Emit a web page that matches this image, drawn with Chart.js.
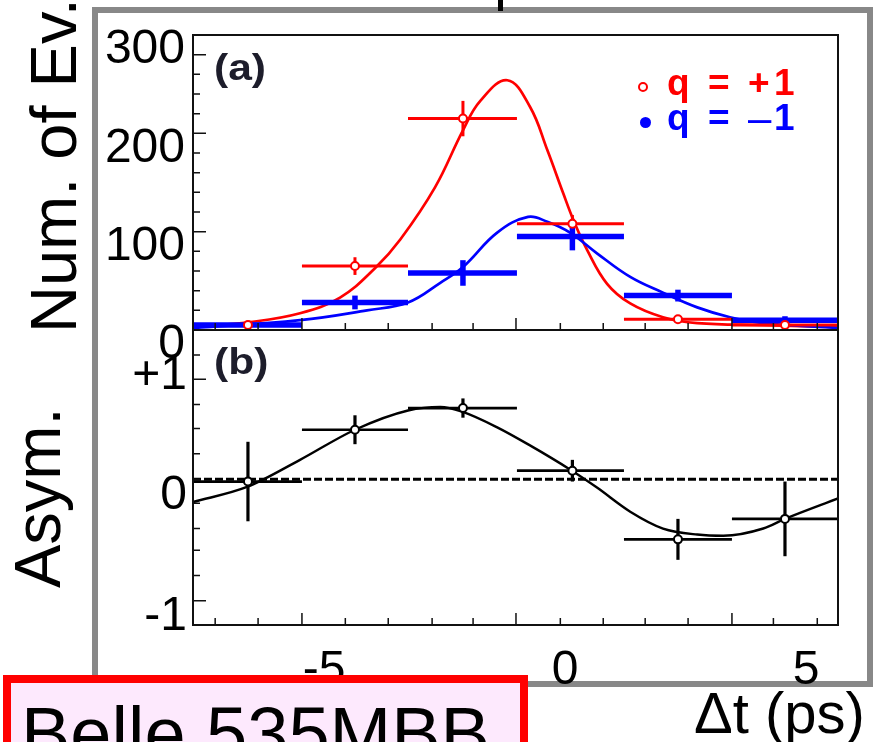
<!DOCTYPE html>
<html>
<head>
<meta charset="utf-8">
<script src="https://cdn.jsdelivr.net/npm/chart.js@4.4.0/dist/chart.umd.min.js"></script>
<style>
    body { margin: 0; width: 876px; height: 742px; overflow: hidden; background: #fff; position: relative;
           font-family: 'Liberation Sans', Arial, sans-serif; }
    canvas { position: absolute; left: 0; top: 0; }
    .abs { position: absolute; white-space: nowrap; line-height: 1; }
    #frame { position: absolute; left: 92px; top: 7px; width: 781px; height: 680px; border: 6px solid #888; box-sizing: border-box; }
    #stub { position: absolute; left: 498px; top: 0; width: 5px; height: 11px; background: #000; }
    .rot { position: absolute; white-space: nowrap; line-height: 1; font-size: 65px; color: #000;
           transform-origin: 0 0; transform: rotate(-90deg); }
    .tag { position: absolute; white-space: nowrap; line-height: 1; font-size: 37px; font-weight: bold; color: #1d1d2b;
           transform-origin: 0 0; transform: scaleX(1.15); }
    .leg { position: absolute; white-space: nowrap; line-height: 1; font-size: 37px; font-weight: bold; }
    #belle { position: absolute; left: 3px; top: 675px; width: 525px; height: 110px; border: 8px solid #ff0000;
             background: #fde9fd; box-sizing: border-box; padding: 14px 0 0 10px; font-size: 74px; line-height: 1; white-space: nowrap; }
</style>
</head>
<body>
<div id="frame"></div>
<div id="stub"></div>
<canvas id="countChart" width="876" height="742"></canvas>
<canvas id="asymChart" width="876" height="742"></canvas>

<div class="rot" style="left:21px; top:333px;">Num. of Ev.</div>
<div class="rot" style="left:5px; top:588px;">Asym.</div>

<div class="tag" style="left:214px; top:49px;">(a)</div>
<div class="tag" style="left:214px; top:343px;">(b)</div>

<div style="position:absolute; left:638px; top:82px; width:10px; height:10px; border:2.5px solid #ff0000; border-radius:50%; box-sizing:border-box;"></div>
<div class="leg" style="left:667px; top:64px; color:#ff0000;">q</div>
<div class="leg" style="left:708px; top:64px; color:#ff0000;">=</div>
<div class="leg" style="left:748px; top:64px; color:#ff0000;">+</div>
<div class="leg" style="left:774px; top:64px; color:#ff0000;">1</div>

<div style="position:absolute; left:640px; top:117px; width:11px; height:11px; background:#0000ff; border-radius:50%;"></div>
<div class="leg" style="left:667px; top:99px; color:#0000ff;">q</div>
<div class="leg" style="left:708px; top:99px; color:#0000ff;">=</div>
<div class="leg" style="left:748px; top:97px; color:#0000ff; font-weight:normal; font-size:42px;">–</div>
<div class="leg" style="left:774px; top:99px; color:#0000ff;">1</div>

<div id="belle">Belle 535MBB</div>
<div class="abs" style="left:694px; top:684px; font-size:58px;">Δt (ps)</div>

<script>
// Δt bins (ps), shared by both panels
const binLow    = [-7.72, -5.46, -3.26, -1.00, 1.22, 3.46];
const binHigh   = [-5.46, -3.26, -1.00, 1.22, 3.46, 5.66];
const binCenter = [-6.58, -4.36, -2.12, 0.15, 2.34, 4.56];

const xMin = -7.72;
const xMax = 5.66;
const xLabels = [-5, 0, 5];

// (a) number of events
const qPlus     = [5, 65, 215, 108, 11, 5];
const qPlusErr  = [2, 9, 18, 9, 3, 2];
const qMinus    = [5, 28, 58, 95, 35, 10];
const qMinusErr = [2, 7, 13, 14, 6, 4];

const fitPlusX = [-7.72, -6.54, -5.50, -4.67, -3.94, -3.42, -2.70, -2.12, -1.76, -1.20,
                  -0.73, -0.37, -0.04, 0.17, 0.46, 0.87, 1.35, 2.03, 2.74, 4.11, 5.66];
const fitPlusY = [3, 8, 17, 33, 63, 92, 145, 203, 233, 254,
                  227, 183, 139, 112, 81, 47, 27, 13, 7, 5, 3];

const fitMinusX = [-7.72, -5.50, -4.11, -3.26, -2.59, -2.12, -1.41, -0.77, -0.37, 0.10, 0.66,
                   1.35, 2.03, 2.74, 3.42, 4.11, 5.66];
const fitMinusY = [2, 10, 20, 28, 48, 64, 99, 115, 110, 99, 78,
                   54, 38, 23, 13, 7, 2];

const countLabels = [0, 100, 200, 300];

// (b) asymmetry
const asym    = [0.12, 0.55, 0.73, 0.21, -0.36, -0.19];
const asymErr = [0.33, 0.12, 0.08, 0.09, 0.17, 0.31];

const asymFitX = [-7.72, -6.60, -5.50, -4.36, -3.26, -2.59, -2.14, -1.41, -0.73, 0.10, 0.66, 1.35,
                  2.03, 2.74, 3.28, 4.11, 4.56, 5.66];
const asymFitY = [-0.05, 0.075, 0.30, 0.55, 0.71, 0.74, 0.70, 0.57, 0.42, 0.22, 0.07, -0.13,
                  -0.27, -0.32, -0.33, -0.27, -0.19, -0.02];
const asymLevel = 0.14;
const asymLabels = [-1, 0, 1];

// inner tick marks
const xTickMajor = [-5.46, -1.02, 3.46];
const xTickMinor = [-7.26, -6.37, -4.56, -3.67, -2.76, -1.91, -0.10, 0.79, 1.66, 2.55, 4.32, 5.23];
const countTickMajor = [100, 200, 280];
const countTickMinor = [20, 40, 60, 80, 120, 140, 160, 180, 220, 240, 260];
const asymTickMajor = [0.97, -0.87];
const asymTickMinor = [1.17, 0.76, 0.56, 0.35, 0.14, -0.06, -0.27, -0.45, -0.66];

const RED = '#ff0000';
const BLUE = '#0000ff';
const FONT = "'Liberation Sans', Arial, sans-serif";

const pts = (xs, ys) => xs.map((x, i) => ({ x: x, y: ys[i] }));

// draws horizontal (bin width) and vertical (error) bars before the dataset's markers
const errorBars = {
    id: 'errorBars',
    beforeDatasetDraw(chart, args) {
        const ds = chart.data.datasets[args.index];
        if (!ds.barSets) return;
        const { ctx, chartArea: a, scales: { x, y } } = chart;
        ctx.save();
        ctx.beginPath();
        ctx.rect(a.left, a.top, a.right - a.left, a.bottom - a.top);
        ctx.clip();
        ds.barSets.forEach(set => {
            ctx.strokeStyle = set.color;
            set.values.forEach((v, i) => {
                const py = y.getPixelForValue(v);
                const px = x.getPixelForValue(binCenter[i]);
                ctx.lineWidth = set.h;
                ctx.beginPath();
                ctx.moveTo(x.getPixelForValue(binLow[i]), py);
                ctx.lineTo(x.getPixelForValue(binHigh[i]), py);
                ctx.stroke();
                ctx.lineWidth = set.v;
                ctx.beginPath();
                ctx.moveTo(px, y.getPixelForValue(v - set.err[i]));
                ctx.lineTo(px, y.getPixelForValue(v + set.err[i]));
                ctx.stroke();
            });
        });
        ctx.restore();
    }
};

// plot frame with inward ticks
const frameTicks = {
    id: 'frameTicks',
    afterDraw(chart, args, o) {
        const { ctx, chartArea: a, scales: { x, y } } = chart;
        ctx.save();
        ctx.strokeStyle = '#111';
        ctx.lineWidth = 1.5;
        ctx.beginPath();
        const xt = (list, len) => list.forEach(v => {
            const p = x.getPixelForValue(v);
            ctx.moveTo(p, a.bottom);
            ctx.lineTo(p, a.bottom - len);
        });
        const yt = (list, len) => list.forEach(v => {
            const p = y.getPixelForValue(v);
            ctx.moveTo(a.left, p);
            ctx.lineTo(a.left + len, p);
        });
        xt(o.xMinor, 7);
        xt(o.xMajor, 12);
        yt(o.yMinor, 7);
        yt(o.yMajor, 13);
        ctx.stroke();
        ctx.lineWidth = 2;
        ctx.strokeRect(a.left, a.top, a.right - a.left, a.bottom - a.top);
        ctx.restore();
    }
};

const axisFont = { family: FONT, size: 48, lineHeight: 1 };

function baseOptions() {
    return {
        responsive: false,
        animation: false,
        events: [],
        plugins: {
            legend: { display: false },
            tooltip: { enabled: false }
        }
    };
}

// ---- panel (a)
const countOpts = baseOptions();
countOpts.layout = { padding: { left: 0, top: 35, right: 38, bottom: 412 } };
countOpts.plugins.frameTicks = { xMajor: xTickMajor, xMinor: xTickMinor, yMajor: countTickMajor, yMinor: countTickMinor };
countOpts.scales = {
    x: { type: 'linear', min: xMin, max: xMax, display: false },
    y: {
        type: 'linear', min: 0, max: 300,
        afterFit: s => { s.width = 193; },
        afterBuildTicks: s => { s.ticks = countLabels.map(v => ({ value: v })); },
        grid: { display: false, tickLength: 0 },
        border: { display: false },
        ticks: { font: axisFont, color: '#000', padding: 8, labelOffset: 15 }
    }
};

new Chart(document.getElementById('countChart'), {
    type: 'scatter',
    data: {
        datasets: [
            {
                label: 'q = +1',
                data: pts(binCenter, qPlus),
                borderColor: RED,
                backgroundColor: '#fff',
                pointRadius: 4,
                pointBorderWidth: 2,
                barSets: [
                    { values: qPlus, err: qPlusErr, color: RED, h: 3, v: 3 },
                    { values: qMinus, err: qMinusErr, color: BLUE, h: 5.5, v: 5.5 }
                ]
            },
            {
                label: 'q = -1',
                data: pts(binCenter, qMinus),
                borderColor: BLUE,
                backgroundColor: BLUE,
                pointRadius: 2.5
            },
            {
                label: 'fit q = -1',
                data: pts(fitMinusX, fitMinusY),
                showLine: true,
                borderColor: BLUE,
                borderWidth: 2.7,
                pointRadius: 0,
                tension: 0.4
            },
            {
                label: 'fit q = +1',
                data: pts(fitPlusX, fitPlusY),
                showLine: true,
                borderColor: RED,
                borderWidth: 2.7,
                pointRadius: 0,
                tension: 0.4
            }
        ]
    },
    options: countOpts,
    plugins: [errorBars, frameTicks]
});

// ---- panel (b)
const asymOpts = baseOptions();
asymOpts.layout = { padding: { left: 0, top: 330, right: 38, bottom: 0 } };
asymOpts.plugins.frameTicks = { xMajor: xTickMajor, xMinor: xTickMinor, yMajor: asymTickMajor, yMinor: asymTickMinor };
asymOpts.scales = {
    x: {
        type: 'linear', min: xMin, max: xMax,
        afterFit: s => { s.height = 117; },
        afterBuildTicks: s => { s.ticks = xLabels.map(v => ({ value: v })); },
        grid: { display: false },
        border: { display: false },
        ticks: { font: axisFont, color: '#000', padding: 14, maxRotation: 0, autoSkip: false }
    },
    y: {
        type: 'linear', min: -1.071, max: 1.378,
        afterFit: s => { s.width = 193; },
        afterBuildTicks: s => { s.ticks = asymLabels.map(v => ({ value: v })); },
        grid: { display: false, tickLength: 0 },
        border: { display: false },
        ticks: {
            font: axisFont, color: '#000', padding: 6,
            callback: v => (v === 1 ? '+1' : String(v))
        }
    }
};

new Chart(document.getElementById('asymChart'), {
    type: 'scatter',
    data: {
        datasets: [
            {
                label: 'Asym.',
                data: pts(binCenter, asym),
                borderColor: '#000',
                backgroundColor: '#fff',
                pointRadius: 4,
                pointBorderWidth: 2,
                barSets: [
                    { values: asym, err: asymErr, color: '#000', h: 2.7, v: 3.2 }
                ]
            },
            {
                label: 'zero',
                data: [{ x: xMin, y: asymLevel }, { x: xMax, y: asymLevel }],
                showLine: true,
                borderColor: '#000',
                borderWidth: 3,
                borderDash: [8, 3],
                pointRadius: 0
            },
            {
                label: 'fit',
                data: pts(asymFitX, asymFitY),
                showLine: true,
                borderColor: '#000',
                borderWidth: 2.4,
                pointRadius: 0,
                cubicInterpolationMode: 'monotone'
            }
        ]
    },
    options: asymOpts,
    plugins: [errorBars, frameTicks]
});
</script>
</body>
</html>
